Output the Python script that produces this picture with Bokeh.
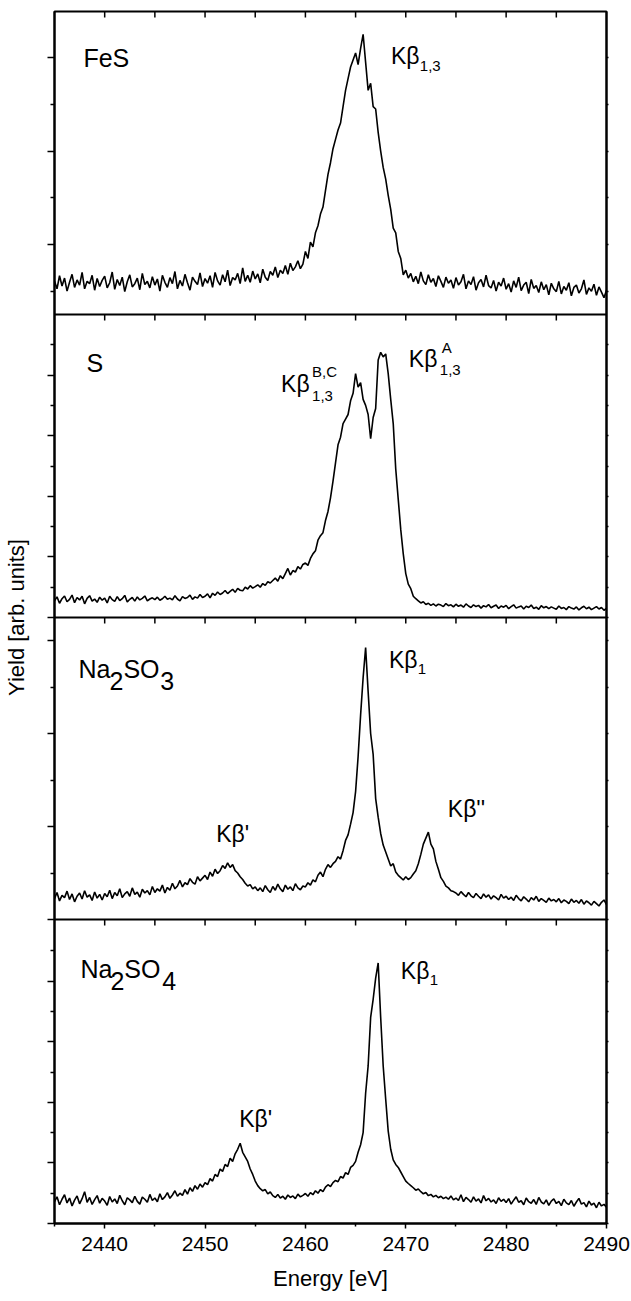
import numpy as np
from bokeh.plotting import figure
from bokeh.models import Range1d, FixedTicker, LinearAxis, Span, Label, CustomJSTickFormatter
from bokeh.embed import file_html
from bokeh.resources import INLINE

# ---------------- data ----------------
E_START = 2435.0   # eV, first sample
E_STEP = 0.25      # eV, sample spacing

fes = [
    0.72,0.55,0.83,0.61,0.78,0.50,0.69,0.86,0.58,0.74,0.63,0.90,0.55,0.71,0.66,0.84,0.52,0.77,0.60,0.73,
    0.82,0.57,0.68,0.91,0.54,0.75,0.62,0.80,0.49,0.70,0.85,0.59,0.66,0.78,0.53,0.88,0.64,0.71,0.57,0.81,
    0.63,0.76,0.50,0.84,0.69,0.58,0.79,0.66,0.92,0.55,0.73,0.61,0.86,0.68,0.52,0.80,0.71,0.64,0.89,0.60,
    0.77,0.67,0.83,0.58,0.90,0.72,0.63,0.85,0.70,0.95,0.62,0.79,0.74,0.88,0.66,1.00,0.71,0.84,0.69,0.93,
    0.76,0.87,0.68,0.97,0.80,0.73,0.92,0.84,1.02,0.79,0.95,0.88,1.05,0.86,1.10,0.94,1.02,1.15,0.98,1.08,
    1.35,1.20,1.55,1.45,1.75,1.90,2.15,2.30,2.65,3.00,3.25,3.55,3.75,3.95,4.10,4.45,4.80,5.05,5.30,5.45,
    5.60,5.35,5.70,6.00,5.40,4.80,4.95,4.45,4.40,3.90,3.50,3.15,2.90,2.55,2.25,1.85,1.75,1.35,1.20,0.85,
    0.95,0.78,0.88,0.70,0.82,0.66,0.91,0.72,0.64,0.85,0.69,0.77,0.60,0.83,0.71,0.58,0.80,0.67,0.74,0.56,
    0.79,0.63,0.70,0.86,0.55,0.72,0.64,0.81,0.52,0.68,0.75,0.59,0.84,0.62,0.57,0.73,0.50,0.69,0.61,0.78,
    0.54,0.66,0.48,0.72,0.58,0.80,0.51,0.63,0.69,0.45,0.75,0.56,0.62,0.47,0.70,0.53,0.64,0.42,0.67,0.55,
    0.49,0.71,0.44,0.60,0.52,0.68,0.40,0.58,0.63,0.46,0.55,0.74,0.43,0.57,0.50,0.65,0.41,0.59,0.48,0.36,0.52,
]

sulfur = [
    0.55,0.68,0.47,0.62,0.71,0.52,0.60,0.74,0.49,0.66,0.58,0.70,0.45,0.63,0.72,0.54,0.61,0.50,0.67,0.57,
    0.64,0.48,0.70,0.59,0.53,0.69,0.56,0.62,0.73,0.51,0.60,0.66,0.54,0.68,0.58,0.63,0.71,0.55,0.61,0.65,
    0.59,0.67,0.57,0.62,0.70,0.60,0.64,0.58,0.72,0.61,0.55,0.69,0.63,0.66,0.74,0.60,0.68,0.64,0.76,0.66,
    0.70,0.78,0.65,0.80,0.73,0.84,0.76,0.81,0.89,0.79,0.86,0.93,0.83,0.96,0.90,0.88,1.00,0.94,1.05,0.97,
    1.02,1.08,1.00,1.12,1.06,1.18,1.14,1.22,1.30,1.20,1.38,1.28,1.45,1.62,1.40,1.55,1.50,1.68,1.60,1.75,
    1.80,1.72,1.95,2.10,2.20,2.55,2.70,2.80,3.20,3.50,3.95,4.50,5.10,5.70,5.95,6.40,6.55,6.70,7.15,7.40,
    8.05,7.60,7.75,7.20,7.00,6.70,5.90,6.60,6.90,8.50,8.75,8.60,8.70,8.05,7.20,6.40,4.90,3.90,2.90,2.10,
    1.45,1.10,0.95,0.70,0.62,0.55,0.48,0.52,0.43,0.47,0.40,0.45,0.38,0.44,0.41,0.36,0.46,0.39,0.42,0.35,
    0.44,0.37,0.41,0.34,0.45,0.38,0.33,0.42,0.36,0.40,0.31,0.39,0.35,0.43,0.32,0.37,0.41,0.30,0.38,0.34,
    0.40,0.29,0.36,0.42,0.31,0.35,0.38,0.28,0.37,0.33,0.41,0.30,0.34,0.27,0.39,0.32,0.36,0.29,0.35,0.31,
    0.27,0.38,0.30,0.33,0.26,0.36,0.31,0.28,0.35,0.25,0.32,0.37,0.29,0.34,0.26,0.31,0.36,0.28,0.33,0.24,0.30,
]

na2so3 = [
    0.45,0.58,0.40,0.52,0.47,0.61,0.43,0.55,0.38,0.50,0.57,0.44,0.62,0.48,0.53,0.41,0.59,0.46,0.54,0.42,
    0.56,0.49,0.63,0.45,0.58,0.51,0.66,0.47,0.55,0.60,0.50,0.68,0.54,0.59,0.48,0.65,0.57,0.62,0.53,0.71,
    0.58,0.66,0.61,0.74,0.57,0.69,0.63,0.78,0.66,0.72,0.84,0.70,0.79,0.75,0.88,0.80,0.76,0.92,0.83,0.89,
    0.95,0.86,1.02,0.93,1.08,0.99,1.05,1.16,1.10,1.22,1.12,1.18,1.05,1.00,0.92,0.86,0.78,0.72,0.75,0.66,
    0.70,0.62,0.68,0.60,0.73,0.64,0.58,0.71,0.63,0.76,0.66,0.60,0.74,0.65,0.70,0.62,0.77,0.68,0.64,0.72,
    0.70,0.79,0.74,0.85,0.81,0.95,1.02,0.92,1.08,1.18,1.12,1.20,1.25,1.35,1.30,1.48,1.70,1.82,2.05,2.30,
    2.75,3.50,4.40,5.20,5.85,4.90,4.00,3.55,2.60,2.20,1.85,1.60,1.45,1.30,1.15,1.20,1.02,0.95,0.90,0.85,
    0.92,0.86,0.90,0.98,1.05,1.20,1.40,1.62,1.75,1.88,1.62,1.52,1.25,1.08,0.90,0.82,0.72,0.68,0.62,0.60,
    0.57,0.52,0.60,0.54,0.49,0.58,0.51,0.47,0.56,0.50,0.45,0.55,0.48,0.53,0.44,0.51,0.47,0.42,0.54,0.46,
    0.50,0.43,0.48,0.41,0.52,0.45,0.40,0.49,0.44,0.38,0.47,0.42,0.50,0.39,0.45,0.41,0.37,0.46,0.40,0.43,
    0.38,0.45,0.36,0.42,0.39,0.34,0.44,0.37,0.41,0.35,0.43,0.33,0.40,0.36,0.31,0.39,0.34,0.29,0.37,0.42,0.32,
]

na2so4 = [
    0.72,0.88,0.62,0.80,0.95,0.68,0.84,0.58,0.77,0.91,0.65,0.82,1.05,0.70,0.86,0.63,0.79,0.92,0.67,0.83,
    0.74,0.60,0.89,0.71,0.81,0.66,0.93,0.75,0.62,0.85,0.78,0.69,0.90,0.73,0.64,0.87,0.80,0.70,0.96,0.76,
    0.84,0.72,0.98,0.79,0.88,1.02,0.83,0.94,1.08,0.90,1.00,0.93,1.12,0.97,1.18,1.06,1.25,1.13,1.30,1.20,
    1.35,1.28,1.48,1.40,1.62,1.55,1.80,1.72,1.95,1.88,2.15,2.05,2.30,2.45,2.65,2.35,2.20,2.05,1.80,1.62,
    1.40,1.25,1.15,1.08,1.12,0.98,1.04,0.92,0.86,0.96,0.84,0.90,0.80,0.94,0.86,0.91,0.82,0.97,0.88,0.93,
    0.99,0.90,1.02,0.95,1.08,1.00,1.12,1.05,1.20,1.28,1.22,1.35,1.42,1.38,1.55,1.50,1.68,1.62,1.85,1.92,
    2.05,2.35,2.60,3.00,4.30,5.20,6.80,7.40,8.10,8.60,6.80,5.20,4.10,3.05,2.45,2.10,1.95,1.85,1.70,1.55,
    1.40,1.32,1.25,1.18,1.10,1.14,1.05,0.98,1.02,0.92,0.96,0.88,0.93,0.85,0.90,0.82,0.87,0.80,0.91,0.78,
    0.84,0.76,0.95,0.72,0.86,0.79,0.70,0.88,0.74,0.81,0.68,0.92,0.75,0.83,0.71,0.78,0.66,0.85,0.73,0.80,
    0.69,0.82,0.64,0.77,0.88,0.70,0.75,0.62,0.84,0.72,0.67,0.79,0.63,0.86,0.71,0.65,0.78,0.60,0.74,0.81,
    0.66,0.73,0.59,0.80,0.68,0.62,0.76,0.57,0.71,0.83,0.64,0.69,0.55,0.74,0.61,0.67,0.52,0.70,0.58,0.63,0.54,
]

x_major = [2440, 2450, 2460, 2470, 2480, 2490]
x_minor = [2435, 2445, 2455, 2465, 2475, 2485]
x_inner = [2440, 2445, 2450, 2455, 2460, 2465, 2470, 2475, 2480, 2485]

# panel layout: base (px above frame bottom), px per y-unit, major / minor ticks (y-units)
panels = [
    dict(values=fes,    base=909, unit=46.7, major=[1.5, 3.5, 5.5], minor=[0.5, 2.5, 4.5]),
    dict(values=sulfur, base=606, unit=30.3, major=[0, 2, 4, 6, 8], minor=[1, 3, 5, 7, 9]),
    dict(values=na2so3, base=304, unit=46.5, major=[0, 2, 4, 6], minor=[1, 3, 5]),
    dict(values=na2so4, base=0,   unit=30.3, major=[0, 2, 4, 6, 8], minor=[1, 3, 5, 7, 9]),
]
FRAME_H = 1212
panel_tops = [1212, 909, 606, 304]

FONT = "Liberation Sans"
BLANK = CustomJSTickFormatter(code="return ''")

p = figure(width=631, height=1301, x_range=Range1d(2435, 2490), y_range=Range1d(0, FRAME_H),
           output_backend="svg", toolbar_location=None,
           min_border_left=53, min_border_right=25, min_border_top=11, min_border_bottom=78)
p.grid.visible = False
p.outline_line_color = "black"
p.outline_line_width = 2
p.background_fill_color = "white"

y_major, y_minor = [], []
for pn in panels:
    y_major += [pn["base"] + t * pn["unit"] for t in pn["major"]]
    y_minor += [pn["base"] + t * pn["unit"] for t in pn["minor"]]
    v = np.asarray(pn["values"], dtype=float)
    x = E_START + E_STEP * np.arange(len(v))
    p.line(x, pn["base"] + v * pn["unit"], line_color="black", line_width=1.6)

for b in [909, 606, 304]:
    p.add_layout(Span(location=b, dimension="width", line_color="black", line_width=2))

# inward ticks at the top of each panel
for t in panel_tops:
    p.segment(x0=x_inner, y0=[t] * len(x_inner), x1=x_inner, y1=[t - 6] * len(x_inner),
              line_color="black", line_width=1.5)

# x axis
xa = p.xaxis[0]
xa.ticker = FixedTicker(ticks=x_major, minor_ticks=x_minor)
xa.axis_line_width = 2
xa.major_tick_in = 0
xa.major_tick_out = 5
xa.minor_tick_in = 0
xa.minor_tick_out = 3
xa.major_tick_line_width = 1.5
xa.minor_tick_line_width = 1.5
xa.major_label_text_font = FONT
xa.major_label_text_font_size = "21px"
xa.major_label_text_color = "black"
xa.major_label_standoff = 8
xa.axis_label = "Energy [eV]"
xa.axis_label_text_font = FONT
xa.axis_label_text_font_size = "22px"
xa.axis_label_text_font_style = "normal"
xa.axis_label_text_color = "black"
xa.axis_label_standoff = 12

# y axis
ya = p.yaxis[0]
ya.ticker = FixedTicker(ticks=y_major, minor_ticks=y_minor)
ya.formatter = BLANK
ya.axis_line_width = 2
ya.major_tick_in = 0
ya.major_tick_out = 7
ya.minor_tick_in = 0
ya.minor_tick_out = 4
ya.major_tick_line_width = 1.5
ya.minor_tick_line_width = 1.5
ya.major_label_standoff = 0
ya.axis_label = "Yield [arb. units]"
ya.axis_label_text_font = FONT
ya.axis_label_text_font_size = "22px"
ya.axis_label_text_font_style = "normal"
ya.axis_label_text_color = "black"
ya.axis_label_standoff = 19

ra = LinearAxis(ticker=FixedTicker(ticks=y_major + y_minor), formatter=BLANK,
                major_label_standoff=0, major_tick_in=0, major_tick_out=2, minor_tick_out=0,
                minor_tick_in=0, axis_line_width=2, major_tick_line_width=1.5)
p.add_layout(ra, "right")


# ---------------- text annotations (page pixel positions) ----------------
def px2x(px):
    return 2435 + (px - 53) * 55.0 / 553.0


def py2y(py):
    return 1223 - py


def lab(text, px, py, size):
    p.add_layout(Label(x=px2x(px), y=py2y(py), text=text, text_font=FONT,
                       text_font_size=size, text_color="black",
                       text_baseline="alphabetic", text_align="left"))


BIG = "25px"
KB = "23px"
SM = "15px"

# FeS
lab("FeS", 82, 57, BIG)
lab("Kβ", 390, 55, KB)
lab("1,3", 419, 65, SM)
# S
lab("S", 85, 362, BIG)
lab("Kβ", 280, 383, KB)
lab("B,C", 311, 371, SM)
lab("1,3", 311, 395, SM)
lab("Kβ", 408, 358, KB)
lab("A", 441, 347, SM)
lab("1,3", 439, 369, SM)
# Na2SO3
lab("Na", 77, 668, BIG)
lab("2", 108, 680, BIG)
lab("SO", 122, 668, BIG)
lab("3", 159, 680, BIG)
lab("Kβ", 388, 659, KB)
lab("1", 417, 668, SM)
lab("Kβ'", 215, 833, KB)
lab("Kβ''", 447, 808, KB)
# Na2SO4
lab("Na", 79, 968, BIG)
lab("2", 109, 980, BIG)
lab("SO", 123, 968, BIG)
lab("4", 161, 980, BIG)
lab("Kβ", 400, 970, KB)
lab("1", 429, 979, SM)
lab("Kβ'", 238, 1118, KB)

open("out.html", "w").write(file_html(p, INLINE))
